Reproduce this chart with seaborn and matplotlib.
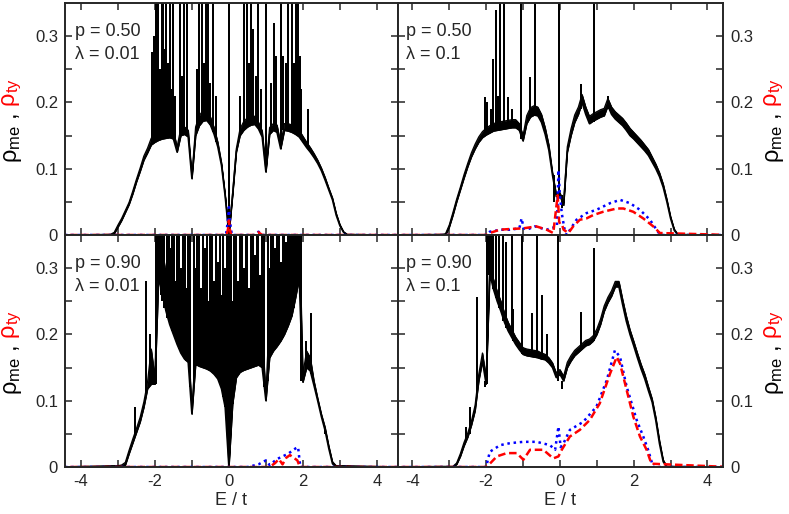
import matplotlib
matplotlib.use("Agg")
import matplotlib.pyplot as plt
import seaborn as sns

sns.set_style("ticks")
plt.rcParams["font.family"] = ["Liberation Sans", "DejaVu Sans"]
plt.rcParams["mathtext.fontset"] = "custom"
plt.rcParams["mathtext.rm"] = "Liberation Sans"
plt.rcParams["mathtext.it"] = "Liberation Sans"
plt.rcParams["mathtext.sf"] = "Liberation Sans"

# energy grid shared by the black curves (E / t)
E_GRID = [-4.6,
          -3.2, -3.1, -3.0, -2.9, -2.8, -2.7, -2.6, -2.5, -2.4, -2.3,
          -2.2, -2.1, -2.0, -1.9, -1.8, -1.7, -1.6, -1.5, -1.4, -1.3,
          -1.2, -1.1, -1.0, -0.9, -0.8, -0.7, -0.6, -0.5, -0.4, -0.3,
          -0.2, -0.1, 0.0, 0.1, 0.2, 0.3, 0.4, 0.5, 0.6, 0.7,
          0.8, 0.9, 1.0, 1.1, 1.2, 1.3, 1.4, 1.5, 1.6, 1.7,
          1.8, 1.9, 2.0, 2.1, 2.2, 2.3, 2.4, 2.5, 2.6, 2.7,
          2.8, 2.9, 3.0, 3.1, 3.2, 4.6]

# ---- p = 0.50, lambda = 0.01 ----
ME_LO_A = [0,
           0, 0.002, 0.012, 0.022, 0.034, 0.046, 0.062, 0.080, 0.096, 0.113,
           0.124, 0.136, 0.140, 0.143, 0.145, 0.146, 0.147, 0.145, 0.125, 0.150,
           0.152, 0.148, 0.085, 0.150, 0.165, 0.172, 0.173, 0.166, 0.152, 0.133,
           0.105, 0.058, 0.0, 0.060, 0.125, 0.150, 0.158, 0.163, 0.166, 0.167,
           0.160, 0.148, 0.095, 0.152, 0.158, 0.155, 0.130, 0.158, 0.157, 0.155,
           0.152, 0.148, 0.140, 0.132, 0.125, 0.117, 0.108, 0.097, 0.083, 0.068,
           0.053, 0.030, 0.014, 0.004, 0.0, 0]
ME_HI_A = [0,
           0.001, 0.004, 0.015, 0.025, 0.037, 0.049, 0.066, 0.084, 0.101, 0.119,
           0.131, 0.146, 0.152, 0.157, 0.159, 0.159, 0.160, 0.157, 0.133, 0.161,
           0.163, 0.158, 0.089, 0.163, 0.180, 0.188, 0.187, 0.178, 0.162, 0.140,
           0.109, 0.061, 0.003, 0.063, 0.130, 0.160, 0.171, 0.177, 0.180, 0.179,
           0.170, 0.157, 0.098, 0.162, 0.168, 0.166, 0.137, 0.168, 0.168, 0.166,
           0.163, 0.158, 0.149, 0.140, 0.132, 0.123, 0.113, 0.101, 0.087, 0.071,
           0.056, 0.033, 0.016, 0.005, 0.001, 0]
SPIKES_A = [(-2.09, 0.14, 0.276), (-2.03, 0.14, 0.30), (-1.97, 0.142, 0.36),
            (-1.92, 0.143, 0.36), (-1.87, 0.144, 0.25), (-1.82, 0.145, 0.36),
            (-1.77, 0.145, 0.36), (-1.73, 0.146, 0.28), (-1.69, 0.146, 0.36),
            (-1.64, 0.147, 0.26), (-1.60, 0.147, 0.36), (-1.55, 0.146, 0.22),
            (-1.51, 0.145, 0.36), (-1.46, 0.14, 0.21), (-1.33, 0.150, 0.36),
            (-1.27, 0.151, 0.24), (-1.21, 0.152, 0.36), (-1.12, 0.150, 0.36),
            (-0.85, 0.16, 0.25), (-0.81, 0.165, 0.36), (-0.74, 0.172, 0.36),
            (-0.68, 0.172, 0.26), (-0.63, 0.173, 0.36), (-0.56, 0.170, 0.36),
            (-0.50, 0.166, 0.23), (-0.42, 0.155, 0.36), (-0.35, 0.14, 0.21),
            (0.0, 0.0, 0.36),
            (0.30, 0.15, 0.21), (0.42, 0.158, 0.36), (0.50, 0.163, 0.36),
            (0.55, 0.165, 0.26), (0.59, 0.166, 0.36), (0.65, 0.167, 0.31),
            (0.72, 0.166, 0.24), (0.78, 0.161, 0.36), (0.87, 0.152, 0.22),
            (1.0, 0.095, 0.36), (1.14, 0.155, 0.23), (1.23, 0.158, 0.32),
            (1.28, 0.157, 0.27), (1.40, 0.13, 0.36), (1.46, 0.158, 0.27),
            (1.55, 0.158, 0.26), (1.61, 0.157, 0.36), (1.70, 0.155, 0.36),
            (1.77, 0.153, 0.26), (1.82, 0.152, 0.36), (1.87, 0.15, 0.36),
            (1.92, 0.148, 0.27), (1.96, 0.145, 0.22), (2.14, 0.13, 0.19)]
TY_BLUE_E_A = [-4.6, -0.08, -0.03, 0.0, 0.03, 0.08, 0.7, 0.8, 0.9, 4.6]
TY_BLUE_A = [0, 0, 0.02, 0.042, 0.02, 0, 0, 0.005, 0, 0]
TY_RED_E_A = [-4.6, -0.06, -0.02, 0.0, 0.02, 0.06, 0.7, 0.8, 0.9, 4.6]
TY_RED_A = [0, 0, 0.01, 0.022, 0.01, 0, 0, 0.004, 0, 0]

# ---- p = 0.50, lambda = 0.1 ----
ME_LO_B = [0,
           0, 0.0, 0.012, 0.030, 0.050, 0.068, 0.086, 0.103, 0.118, 0.130,
           0.140, 0.147, 0.151, 0.154, 0.157, 0.158, 0.159, 0.160, 0.161, 0.162,
           0.162, 0.158, 0.142, 0.168, 0.178, 0.181, 0.180, 0.170, 0.152, 0.128,
           0.090, 0.058, 0.060, 0.045, 0.125, 0.150, 0.170, 0.182, 0.200, 0.182,
           0.168, 0.172, 0.175, 0.178, 0.180, 0.195, 0.182, 0.175, 0.170, 0.165,
           0.158, 0.150, 0.145, 0.139, 0.133, 0.127, 0.120, 0.110, 0.100, 0.088,
           0.072, 0.050, 0.025, 0.007, 0.0, 0]
ME_HI_B = [0,
           0.001, 0.002, 0.015, 0.034, 0.054, 0.072, 0.091, 0.108, 0.124, 0.137,
           0.148, 0.156, 0.161, 0.165, 0.168, 0.170, 0.171, 0.172, 0.173, 0.174,
           0.174, 0.168, 0.150, 0.180, 0.192, 0.195, 0.193, 0.182, 0.162, 0.136,
           0.094, 0.062, 0.064, 0.049, 0.133, 0.160, 0.181, 0.193, 0.212, 0.193,
           0.179, 0.183, 0.186, 0.189, 0.191, 0.206, 0.193, 0.186, 0.181, 0.176,
           0.169, 0.161, 0.155, 0.149, 0.143, 0.136, 0.129, 0.118, 0.107, 0.094,
           0.077, 0.054, 0.028, 0.009, 0.001, 0]
SPIKES_B = [(-2.02, 0.151, 0.208), (-1.97, 0.152, 0.20), (-1.86, 0.155, 0.19),
            (-1.82, 0.156, 0.266), (-1.74, 0.158, 0.339), (-1.69, 0.158, 0.21),
            (-1.63, 0.159, 0.36), (-1.52, 0.16, 0.36), (-1.41, 0.161, 0.208),
            (-1.30, 0.162, 0.19), (-1.05, 0.145, 0.36), (-0.82, 0.178, 0.238),
            (-0.67, 0.18, 0.36), (-0.15, 0.05, 0.09), (-0.03, 0.06, 0.36),
            (0.07, 0.04, 0.06), (0.57, 0.19, 0.228), (0.93, 0.17, 0.36),
            (1.31, 0.19, 0.21)]
TY_BLUE_E_B = [-4.6, -2.0, -1.9, -1.6, -1.36, -1.1, -1.04, -0.98, -0.9, -0.68,
               -0.36, -0.08, -0.04, 0.0, 0.05, 0.12, 0.18, 0.45, 0.72, 0.99,
               1.36, 1.63, 1.9, 2.17, 2.44, 2.62, 2.72, 4.6]
TY_BLUE_B = [0, 0, 0.005, 0.008, 0.008, 0.01, 0.025, 0.01, 0.008, 0.013,
             0.008, 0.013, 0.098, 0.06, 0.033, 0.01, 0.0, 0.023, 0.033, 0.038,
             0.048, 0.053, 0.048, 0.038, 0.023, 0.008, 0, 0]
TY_RED_E_B = [-4.6, -2.0, -1.9, -1.63, -1.36, -1.0, -0.64, -0.36, -0.18, -0.06,
              -0.02, 0.02, 0.06, 0.1, 0.23, 0.36, 0.54, 0.72, 0.9, 1.17,
              1.54, 1.72, 1.99, 2.26, 2.53, 2.71, 4.6]
TY_RED_B = [0, 0, 0.003, 0.008, 0.009, 0.01, 0.013, 0.008, 0.003, 0.06,
            0.02, 0.015, 0.015, 0.008, 0.003, 0.013, 0.023, 0.025, 0.03, 0.035,
            0.04, 0.04, 0.035, 0.025, 0.013, 0.003, 0]

# ---- p = 0.90, lambda = 0.01 ----
ME_LO_C = [0,
           0, 0, 0, 0, 0.003, 0.020, 0.036, 0.052, 0.068, 0.090,
           0.118, 0.125, 0.125, 0.285, 0.262, 0.235, 0.215, 0.200, 0.185, 0.172,
           0.163, 0.158, 0.080, 0.155, 0.152, 0.150, 0.148, 0.145, 0.140, 0.133,
           0.118, 0.090, 0.0, 0.095, 0.135, 0.143, 0.146, 0.148, 0.150, 0.152,
           0.154, 0.150, 0.100, 0.165, 0.175, 0.182, 0.190, 0.200, 0.213, 0.228,
           0.255, 0.285, 0.128, 0.150, 0.145, 0.123, 0.100, 0.076, 0.055, 0.028,
           0.005, 0, 0, 0, 0, 0]
ME_HI_C = [0,
           0.002, 0.002, 0.002, 0.003, 0.007, 0.025, 0.042, 0.058, 0.075, 0.098,
           0.128, 0.178, 0.135, 0.36, 0.33, 0.29, 0.26, 0.235, 0.22, 0.205,
           0.195, 0.185, 0.09, 0.175, 0.17, 0.168, 0.168, 0.165, 0.16, 0.155,
           0.14, 0.11, 0.005, 0.115, 0.17, 0.19, 0.195, 0.2, 0.205, 0.21,
           0.215, 0.2, 0.11, 0.235, 0.245, 0.255, 0.265, 0.275, 0.29, 0.30,
           0.32, 0.36, 0.14, 0.175, 0.165, 0.13, 0.104, 0.08, 0.06, 0.032,
           0.008, 0.002, 0.002, 0.002, 0.002, 0]
SPIKES_C = [(-2.54, 0.045, 0.09), (-2.23, 0.11, 0.28), (-2.12, 0.13, 0.2),
            (-1.97, 0.125, 0.36), (-1.93, 0.28, 0.36), (-1.89, 0.28, 0.36),
            (-1.84, 0.26, 0.36), (-1.80, 0.25, 0.36), (-1.75, 0.24, 0.36),
            (-1.71, 0.235, 0.30), (-1.66, 0.225, 0.36), (-1.62, 0.22, 0.36),
            (-1.57, 0.21, 0.33), (-1.53, 0.205, 0.36), (-1.48, 0.2, 0.36),
            (-1.43, 0.19, 0.28), (-1.39, 0.185, 0.36), (-1.34, 0.178, 0.36),
            (-1.29, 0.172, 0.30), (-1.25, 0.168, 0.36), (-1.20, 0.163, 0.36),
            (-1.15, 0.16, 0.27), (-1.10, 0.158, 0.36), (-1.04, 0.12, 0.36),
            (-0.95, 0.13, 0.36), (-0.90, 0.155, 0.30), (-0.85, 0.153, 0.36),
            (-0.80, 0.152, 0.36), (-0.75, 0.151, 0.27), (-0.70, 0.15, 0.36),
            (-0.65, 0.149, 0.33), (-0.60, 0.148, 0.36), (-0.55, 0.147, 0.25),
            (-0.50, 0.145, 0.36), (-0.45, 0.143, 0.36), (-0.40, 0.14, 0.28),
            (-0.35, 0.137, 0.36), (-0.30, 0.133, 0.31), (-0.25, 0.128, 0.36),
            (-0.20, 0.118, 0.26), (-0.15, 0.105, 0.36), (-0.10, 0.09, 0.30),
            (-0.05, 0.05, 0.36), (0.0, 0.0, 0.36),
            (0.05, 0.05, 0.36), (0.10, 0.095, 0.25), (0.15, 0.115, 0.36),
            (0.20, 0.135, 0.36), (0.25, 0.14, 0.28), (0.30, 0.143, 0.36),
            (0.35, 0.145, 0.36), (0.40, 0.146, 0.30), (0.45, 0.147, 0.36),
            (0.50, 0.148, 0.36), (0.55, 0.149, 0.27), (0.60, 0.15, 0.36),
            (0.65, 0.151, 0.36), (0.70, 0.152, 0.32), (0.75, 0.153, 0.36),
            (0.80, 0.154, 0.36), (0.85, 0.152, 0.29), (0.90, 0.15, 0.36),
            (0.96, 0.12, 0.36), (1.05, 0.13, 0.36), (1.10, 0.165, 0.30),
            (1.15, 0.17, 0.36), (1.20, 0.175, 0.36), (1.25, 0.178, 0.33),
            (1.30, 0.182, 0.36), (1.35, 0.186, 0.36), (1.40, 0.19, 0.31),
            (1.45, 0.195, 0.36), (1.50, 0.2, 0.36), (1.55, 0.206, 0.34),
            (1.60, 0.213, 0.36), (1.65, 0.22, 0.36), (1.70, 0.228, 0.36),
            (1.75, 0.24, 0.36), (1.80, 0.255, 0.36), (1.85, 0.27, 0.36),
            (1.90, 0.285, 0.36), (1.95, 0.13, 0.36), (2.08, 0.15, 0.19),
            (2.23, 0.14, 0.233), (2.6, 0.05, 0.06)]
TY_BLUE_E_C = [-4.6, 0.5, 0.8, 1.0, 1.1, 1.3, 1.45, 1.6, 1.7, 1.8, 1.87, 1.93, 4.6]
TY_BLUE_C = [0, 0, 0.004, 0.01, 0.003, 0.012, 0.016, 0.02, 0.024, 0.028, 0.03, 0, 0]
TY_RED_E_C = [-4.6, 1.1, 1.25, 1.35, 1.45, 1.55, 1.65, 1.75, 1.85, 1.92, 4.6]
TY_RED_C = [0, 0, 0.006, 0.012, 0.004, 0.014, 0.018, 0.014, 0.01, 0, 0]

# ---- p = 0.90, lambda = 0.1 ----
ME_LO_D = [0,
           0, 0, 0, 0, 0.004, 0.016, 0.032, 0.045, 0.063, 0.085,
           0.130, 0.160, 0.125, 0.292, 0.268, 0.250, 0.235, 0.218, 0.205, 0.195,
           0.185, 0.177, 0.170, 0.168, 0.167, 0.166, 0.165, 0.163, 0.162, 0.157,
           0.150, 0.135, 0.140, 0.130, 0.150, 0.160, 0.168, 0.173, 0.178, 0.183,
           0.185, 0.190, 0.200, 0.215, 0.235, 0.248, 0.258, 0.272, 0.272, 0.245,
           0.220, 0.200, 0.183, 0.165, 0.148, 0.133, 0.115, 0.098, 0.070, 0.035,
           0.008, 0, 0, 0, 0, 0]
ME_HI_D = [0,
           0.001, 0.001, 0.001, 0.001, 0.006, 0.020, 0.037, 0.051, 0.069, 0.093,
           0.140, 0.172, 0.135, 0.305, 0.283, 0.265, 0.250, 0.232, 0.218, 0.207,
           0.196, 0.188, 0.180, 0.178, 0.177, 0.176, 0.175, 0.172, 0.170, 0.165,
           0.157, 0.142, 0.147, 0.137, 0.158, 0.168, 0.176, 0.181, 0.186, 0.191,
           0.193, 0.198, 0.208, 0.223, 0.243, 0.256, 0.266, 0.280, 0.280, 0.253,
           0.228, 0.207, 0.190, 0.172, 0.155, 0.140, 0.121, 0.103, 0.075, 0.040,
           0.011, 0.001, 0.001, 0.001, 0.001, 0]
SPIKES_D = [(-2.54, 0.04, 0.06), (-2.45, 0.05, 0.09), (-2.24, 0.11, 0.257),
            (-2.03, 0.12, 0.13), (-1.97, 0.125, 0.36), (-1.93, 0.29, 0.36),
            (-1.87, 0.28, 0.36), (-1.81, 0.268, 0.36), (-1.74, 0.255, 0.36),
            (-1.64, 0.24, 0.36), (-1.54, 0.22, 0.36), (-1.45, 0.21, 0.34),
            (-1.31, 0.195, 0.36), (-1.26, 0.19, 0.238), (-1.04, 0.17, 0.36),
            (-0.77, 0.167, 0.233), (-0.63, 0.166, 0.36), (-0.49, 0.163, 0.26),
            (-0.35, 0.16, 0.2), (-0.04, 0.13, 0.36), (0.05, 0.118, 0.13),
            (0.57, 0.176, 0.234), (0.93, 0.19, 0.33)]
TY_BLUE_E_D = [-4.6, -2.0, -1.9, -1.62, -1.35, -0.99, -0.63, -0.27, -0.13, -0.04,
               0.02, 0.1, 0.27, 0.63, 0.99, 1.27, 1.49, 1.63, 1.81, 2.08,
               2.26, 2.39, 2.53, 4.6]
TY_BLUE_D = [0, 0, 0.023, 0.033, 0.036, 0.038, 0.038, 0.033, 0.026, 0.061,
             0.03, 0.036, 0.056, 0.068, 0.091, 0.131, 0.176, 0.166, 0.121, 0.071,
             0.046, 0.026, 0, 0]
TY_RED_E_D = [-4.6, -2.0, -1.9, -1.71, -1.44, -1.17, -0.99, -0.81, -0.45, -0.18,
              -0.04, 0.05, 0.27, 0.54, 0.81, 1.08, 1.36, 1.54, 1.63, 1.81,
              1.99, 2.17, 2.35, 2.48, 4.6]
TY_RED_D = [0, 0, 0.005, 0.016, 0.021, 0.021, 0.011, 0.026, 0.026, 0.013,
            0.016, 0.026, 0.046, 0.056, 0.071, 0.096, 0.141, 0.166, 0.156, 0.116,
            0.076, 0.046, 0.026, 0.005, 0]

P_LABELS = ["p = 0.50", "p = 0.50", "p = 0.90", "p = 0.90"]
LAM_LABELS = ["λ = 0.01", "λ = 0.1", "λ = 0.01", "λ = 0.1"]
X_TICKS = [-4, -3, -2, -1, 0, 1, 2, 3, 4]
X_TICKLABELS = ["-4", "", "-2", "", "0", "", "2", "", "4"]
Y_TICKS = [0, 0.05, 0.1, 0.15, 0.2, 0.25, 0.3]
Y_TICKLABELS = ["0", "", "0.1", "", "0.2", "", "0.3"]


def draw_panel(ax, lo, hi, spikes, be, bv, re, rv):
    ax.fill_between(E_GRID, lo, hi, color="black", lw=0.5)
    sns.lineplot(x=E_GRID, y=lo, ax=ax, color="black", lw=1.2, estimator=None)
    sns.lineplot(x=E_GRID, y=hi, ax=ax, color="black", lw=0.9, estimator=None)
    # spikes drawn crisp, as in the original raster
    ax.vlines([s[0] for s in spikes], [s[1] for s in spikes],
              [s[2] for s in spikes], color="black", lw=1.1, antialiased=False)
    sns.lineplot(x=be, y=bv, ax=ax, color="#0000ff", lw=1.8,
                 linestyle=(0, (1, 1.5)), estimator=None)
    sns.lineplot(x=re, y=rv, ax=ax, color="#ff0000", lw=1.8,
                 linestyle=(0, (3, 1.5)), estimator=None)


fig = plt.figure(figsize=(7.89, 5.14), dpi=100)
L, M, R = 0.0824, 0.5044, 0.9163
B, MID, T = 0.0914, 0.5428, 0.9942
axes = [fig.add_axes([L, MID, M - L, T - MID]),
        fig.add_axes([M, MID, R - M, T - MID]),
        fig.add_axes([L, B, M - L, MID - B]),
        fig.add_axes([M, B, R - M, MID - B])]

panels = [(ME_LO_A, ME_HI_A, SPIKES_A, TY_BLUE_E_A, TY_BLUE_A, TY_RED_E_A, TY_RED_A),
          (ME_LO_B, ME_HI_B, SPIKES_B, TY_BLUE_E_B, TY_BLUE_B, TY_RED_E_B, TY_RED_B),
          (ME_LO_C, ME_HI_C, SPIKES_C, TY_BLUE_E_C, TY_BLUE_C, TY_RED_E_C, TY_RED_C),
          (ME_LO_D, ME_HI_D, SPIKES_D, TY_BLUE_E_D, TY_BLUE_D, TY_RED_E_D, TY_RED_D)]

for i, ax in enumerate(axes):
    draw_panel(ax, *panels[i])
    left_col = i % 2 == 0
    bottom_row = i >= 2
    ax.set_xlim((-4.43, 4.57) if left_col else (-4.39, 4.42))
    ax.set_ylim(0, 0.35)
    ax.set_xticks(X_TICKS)
    ax.set_xticklabels(X_TICKLABELS)
    ax.set_yticks(Y_TICKS)
    ax.set_yticklabels(Y_TICKLABELS)
    ax.tick_params(direction="in", top=True, right=True, bottom=True, left=True,
                   length=5, width=1.1, labelsize=12, pad=5,
                   labelleft=left_col, labelright=not left_col,
                   labelbottom=bottom_row)
    for sp in ax.spines.values():
        sp.set_linewidth(1.4)
        sp.set_visible(True)
    ax.set_ylabel("")
    ax.set_xlabel("E / t" if bottom_row else "", fontsize=13, labelpad=2)
    tx = 0.03 if left_col else 0.025
    ax.text(tx, 0.879, P_LABELS[i], transform=ax.transAxes, fontsize=13, va="center")
    ax.text(tx, 0.776, LAM_LABELS[i], transform=ax.transAxes, fontsize=13, va="center")

# two-coloured axis labels
for yc in (0.780, 0.329):
    for xc in (0.016, 0.982):
        fig.text(xc, yc, r"$\rho_{\mathrm{me}}$ ,", rotation=90, ha="center",
                 va="top", fontsize=17, color="black")
        fig.text(xc, yc, r" $\rho_{\mathrm{ty}}$", rotation=90, ha="center",
                 va="bottom", fontsize=17, color="#ff0000")

fig.savefig("out.png", dpi=100)
